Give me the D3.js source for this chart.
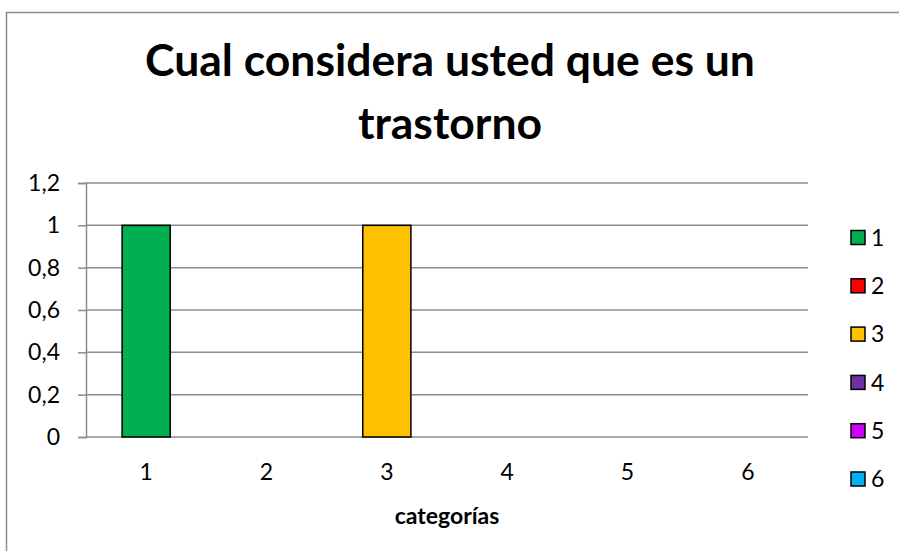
<!DOCTYPE html>
<html>
<head>
<meta charset="utf-8">
<script src="https://cdn.jsdelivr.net/npm/d3@7"></script>
<style>
  body { margin: 0; background: #fff; }
  text { font-family: Lato, "Open Sans", sans-serif; fill: #000; }
</style>
</head>
<body>
<div class="chart"></div>
<script>
const titleLines = ["Cual considera usted que es un", "trastorno"];
const categories = ["1", "2", "3", "4", "5", "6"];
const values = [1, 0, 1, 0, 0, 0];
const colors = ["#00B050", "#FF0000", "#FFC000", "#7030A0", "#CC00FF", "#00B0F0"];
const yTicks = [0, 0.2, 0.4, 0.6, 0.8, 1, 1.2];
const xTitle = "categorías";

const W = 899, H = 551;
const margin = { top: 183, right: 91, bottom: 114, left: 86 },
      width = W - margin.left - margin.right,
      height = H - margin.top - margin.bottom;

const locale = d3.formatLocale({ decimal: ",", thousands: ".", grouping: [3], currency: ["", "€"] });
const fmt = locale.format("~g");

const root = d3.select(".chart").append("svg")
    .attr("width", W)
    .attr("height", H);

// outer frame (right / bottom edges fall outside the picture)
root.append("rect")
    .attr("x", 6.5).attr("y", 12.5)
    .attr("width", W + 20).attr("height", H + 20)
    .attr("fill", "none")
    .attr("stroke", "#8c8c8c")
    .attr("stroke-width", 1.5);

// title, two lines, fitted to the reference width
const title = root.append("g");
const t1 = title.append("text")
    .attr("x", 450).attr("y", 76)
    .attr("text-anchor", "middle")
    .style("font-weight", "bold")
    .style("font-size", "40px")
    .text(titleLines[0]);
const fs = 40 * 610 / t1.node().getComputedTextLength();
t1.style("font-size", fs + "px");
title.append("text")
    .attr("x", 450).attr("y", 139)
    .attr("text-anchor", "middle")
    .style("font-weight", "bold")
    .style("font-size", fs + "px")
    .text(titleLines[1]);

const svg = root.append("g")
    .attr("transform", "translate(" + margin.left + "," + margin.top + ")");

const x = d3.scaleBand().domain(categories).range([0, width]).paddingInner(0.6).paddingOuter(0.3);
const y = d3.scaleLinear().domain([0, 1.2]).range([height, 0]);

// gridlines + y axis
const yAxis = svg.append("g")
    .call(d3.axisLeft(y).tickValues(yTicks).tickFormat(fmt).tickSize(8).tickPadding(18));
yAxis.select(".domain").attr("stroke", "#8c8c8c").attr("stroke-width", 1.5);
yAxis.selectAll(".tick line").attr("stroke", "#8c8c8c").attr("stroke-width", 1.5);
yAxis.selectAll(".tick text").style("font-size", "23px").style("font-family", "Lato, sans-serif").attr("fill", "#000");

svg.append("g")
    .selectAll("line")
    .data(yTicks)
    .enter().append("line")
      .attr("x1", 0)
      .attr("x2", width)
      .attr("y1", (d) => y(d))
      .attr("y2", (d) => y(d))
      .attr("stroke", "#8c8c8c")
      .attr("stroke-width", 1.5);

// bars
svg.selectAll(".bar")
    .data(values)
    .enter().append("rect")
      .attr("class", "bar")
      .attr("x", (d, i) => x(categories[i]))
      .attr("width", x.bandwidth())
      .attr("y", (d) => y(d))
      .attr("height", (d) => height - y(d))
      .attr("fill", (d, i) => colors[i])
      .attr("stroke", (d) => d > 0 ? "#000" : "none")
      .attr("stroke-width", 1.5);

// x axis labels (no ticks)
const xAxis = svg.append("g")
    .attr("transform", "translate(0," + height + ")")
    .call(d3.axisBottom(x).tickSize(0).tickPadding(27));
xAxis.select(".domain").remove();
xAxis.selectAll(".tick text").style("font-size", "23px").style("font-family", "Lato, sans-serif").attr("fill", "#000");

svg.append("text")
    .attr("x", width / 2)
    .attr("y", height + 87)
    .attr("text-anchor", "middle")
    .style("font-weight", "bold")
    .style("font-size", "23px")
    .text(xTitle);

// legend
const legend = root.append("g")
    .attr("transform", "translate(851,237.5)");
const item = legend.selectAll(".item")
    .data(categories)
    .enter().append("g")
      .attr("class", "item")
      .attr("transform", (d, i) => "translate(0," + i * 48.3 + ")");
item.append("rect")
    .attr("x", 0).attr("y", -7)
    .attr("width", 14).attr("height", 14)
    .attr("fill", (d, i) => colors[i])
    .attr("stroke", "#000")
    .attr("stroke-width", 1.5);
item.append("text")
    .attr("x", 20)
    .attr("dy", "0.36em")
    .style("font-size", "23px")
    .text((d) => d);
</script>
</body>
</html>
